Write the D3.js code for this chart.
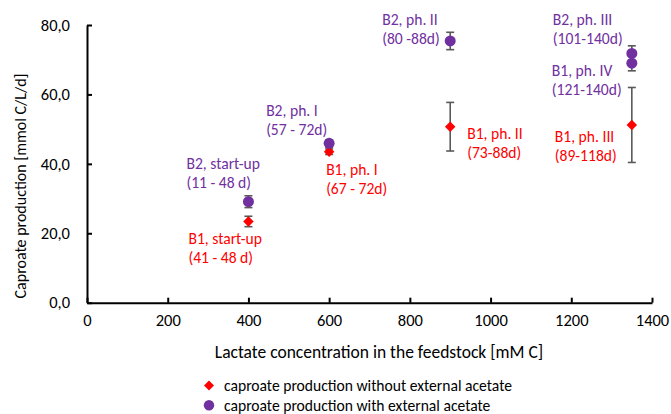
<!DOCTYPE html>
<html>
<head>
<meta charset="utf-8">
<script src="https://cdn.jsdelivr.net/npm/d3@7"></script>
<style>
  body { margin: 0; background: #fff; }
  svg text { font-family: Carlito, Calibri, "Open Sans", sans-serif; }
</style>
</head>
<body>
<svg id="chart" width="671" height="414"></svg>
<script>
// lactate in feed [mM C], caproate production [mmol C/L/d], error (+/-)
var noAcetateX = [400, 600, 900, 1350];
var noAcetateY = [23.4, 43.5, 50.7, 51.2];
var noAcetateErr = [1.5, 0.8, 7.0, 10.8];
var noAcetateLabels = [["B1, start-up", "(41 - 48 d)"], ["B1, ph. I", "(67 - 72d)"], ["B1, ph. II", "(73-88d)"], ["B1, ph. III", "(89-118d)"]];

var withAcetateX = [400, 600, 900, 1350, 1350];
var withAcetateY = [29.1, 45.9, 75.4, 71.8, 69.0];
var withAcetateErr = [1.7, 1.0, 2.5, 2.2, 2.2];
var withAcetateLabels = [["B2, start-up", "(11 - 48 d)"], ["B2, ph. I", "(57 - 72d)"], ["B2, ph. II", "(80 -88d)"], ["B2, ph. III", "(101-140d)"], ["B1, ph. IV", "(121-140d)"]];

var xTicks = [0, 200, 400, 600, 800, 1000, 1200, 1400];
var yTicks = [0, 20, 40, 60, 80];
var legendLabels = ["caproate production without external acetate", "caproate production with external acetate"];

// label offsets from their point, in px (left edge, first line centre)
var noAcetateOff = [[-60, 16.5], [-3, 17], [17, 6], [-77, 11]];
var withAcetateOff = [[-62, -39], [-63, -33], [-68, -22], [-79, -34.5], [-80, 7]];

var red = "#ff0000", purple = "#7030a0", errColor = "#595959";
var font = "Carlito, Calibri, 'Open Sans', sans-serif";

var svg = d3.select("#chart");
var x = d3.scaleLinear().domain([0, 1400]).range([87, 652]);
var y = d3.scaleLinear().domain([0, 80]).range([302.7, 25]);

// axes
var xAxis = svg.append("g").attr("transform", "translate(0," + y(0) + ")")
  .call(d3.axisBottom(x).tickValues(xTicks).tickSizeInner(-5).tickSizeOuter(0).tickPadding(12).tickFormat(d3.format("d")));
var yAxis = svg.append("g").attr("transform", "translate(" + x(0) + ",0)")
  .call(d3.axisLeft(y).tickValues(yTicks).tickSizeInner(-5).tickSizeOuter(0).tickPadding(17)
    .tickFormat(function(d){ return d3.format(".1f")(d).replace(".", ","); }));
[xAxis, yAxis].forEach(function(a){
  a.select(".domain").attr("stroke", "#000").attr("stroke-width", 2);
  a.selectAll(".tick line").attr("stroke", "#000").attr("stroke-width", 2);
  a.selectAll(".tick text").attr("font-size", 16.5).attr("fill", "#000").style("font-family", font);
});

svg.append("text")
  .attr("x", 379).attr("y", 352).attr("dominant-baseline", "central")
  .attr("text-anchor", "middle").attr("font-size", 17.5)
  .text("Lactate concentration in the feedstock [mM C]");
svg.append("text")
  .attr("transform", "translate(20,186) rotate(-90)").attr("dominant-baseline", "central")
  .attr("text-anchor", "middle").attr("font-size", 16)
  .text("Caproate production [mmol C/L/d]");

function drawSeries(xs, ys, errs, color, shape) {
  var g = svg.append("g");
  var data = xs.map(function(d, i){ return {x: d, y: ys[i], e: errs[i]}; });
  var eb = g.selectAll(".err").data(data).enter().append("g").attr("stroke", errColor).attr("stroke-width", 1.6);
  eb.append("line").attr("x1", function(d){ return x(d.x); }).attr("x2", function(d){ return x(d.x); })
    .attr("y1", function(d){ return y(d.y - d.e); }).attr("y2", function(d){ return y(d.y + d.e); });
  [-1, 1].forEach(function(s){
    eb.append("line").attr("x1", function(d){ return x(d.x) - 4; }).attr("x2", function(d){ return x(d.x) + 4; })
      .attr("y1", function(d){ return y(d.y + s * d.e); }).attr("y2", function(d){ return y(d.y + s * d.e); });
  });
  g.selectAll(".pt").data(data).enter().append("path")
    .attr("d", d3.symbol().type(shape).size(shape === d3.symbolCircle ? 95 : 55))
    .attr("transform", function(d){ return "translate(" + x(d.x) + "," + y(d.y) + ")" + (shape === d3.symbolSquare ? " rotate(45)" : ""); })
    .attr("fill", color);
}

function drawLabels(xs, ys, labels, offs, color) {
  labels.forEach(function(l, i){
    var t = svg.append("text").attr("fill", color).attr("font-size", 15.6)
      .attr("x", x(xs[i]) + offs[i][0]).attr("y", y(ys[i]) + offs[i][1]).attr("dominant-baseline", "central");
    l.forEach(function(line, j){
      t.append("tspan").attr("x", x(xs[i]) + offs[i][0]).attr("dy", j === 0 ? 0 : 19).text(line);
    });
  });
}

drawSeries(noAcetateX, noAcetateY, noAcetateErr, red, d3.symbolSquare);
drawSeries(withAcetateX, withAcetateY, withAcetateErr, purple, d3.symbolCircle);
drawLabels(noAcetateX, noAcetateY, noAcetateLabels, noAcetateOff, red);
drawLabels(withAcetateX, withAcetateY, withAcetateLabels, withAcetateOff, purple);

// legend
var legend = svg.append("g").attr("transform", "translate(209,385.5)");
var shapes = [d3.symbolSquare, d3.symbolCircle], colors = [red, purple];
legendLabels.forEach(function(l, i){
  var row = legend.append("g").attr("transform", "translate(0," + i * 19.8 + ")");
  row.append("path").attr("d", d3.symbol().type(shapes[i]).size(i === 0 ? 50 : 85))
    .attr("transform", i === 0 ? "rotate(45)" : null).attr("fill", colors[i]);
  row.append("text").attr("x", 15).attr("dominant-baseline", "central").attr("font-size", 15.6).text(l);
});
</script>
</body>
</html>
